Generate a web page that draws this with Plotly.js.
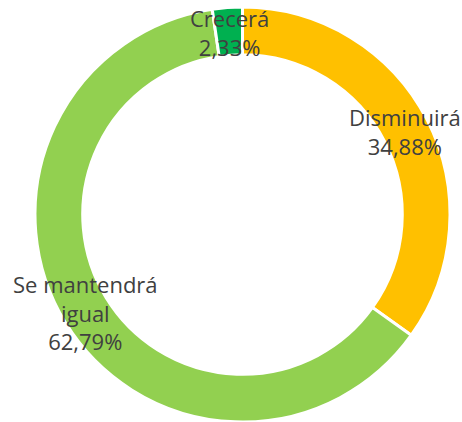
<!DOCTYPE html>
<html><head><meta charset="utf-8">
<script src="https://cdn.plot.ly/plotly-3.0.1.min.js"></script>
<style>html,body{margin:0;padding:0;background:#fff;}#chart{width:462px;height:422px;}</style>
</head><body><div id="chart"></div>
<script>
const categories = ["Disminuirá", "Se mantendrá igual", "Crecerá"];
const labelLines = [["Disminuirá"], ["Se mantendrá", "igual"], ["Crecerá"]];
const values = [34.88, 62.79, 2.33];
const valueLabels = ["34,88%", "62,79%", "2,33%"];
const colors = ["#FFC000", "#92D050", "#00B050"];

const W = 462, H = 422;
// label centre positions in pixels (layout only)
const labelPos = [[405, 131], [85, 312], [229, 32]];

const annotations = categories.map((c, i) => ({
  xref: "paper", yref: "paper",
  x: labelPos[i][0] / W, y: 1 - labelPos[i][1] / H,
  xanchor: "center", yanchor: "middle",
  showarrow: false,
  text: labelLines[i].concat([valueLabels[i]]).join("<br>"),
  font: {family: "Open Sans, Noto Sans, sans-serif", size: 22, color: "#404040"},
  align: "center"
}));

Plotly.newPlot("chart", [{
  type: "pie",
  labels: categories,
  values: values,
  hole: 0.77,
  sort: false,
  direction: "clockwise",
  rotation: 0,
  textinfo: "none",
  hoverinfo: "none",
  marker: {colors: colors, line: {color: "#ffffff", width: 3}},
  domain: {x: [35 / W, 450 / W], y: [0, 1 - 7 / H]}
}], {
  width: W, height: H,
  margin: {l: 0, r: 0, t: 0, b: 0},
  showlegend: false,
  paper_bgcolor: "#ffffff",
  annotations: annotations
}, {staticPlot: true, displayModeBar: false});
</script></body></html>
